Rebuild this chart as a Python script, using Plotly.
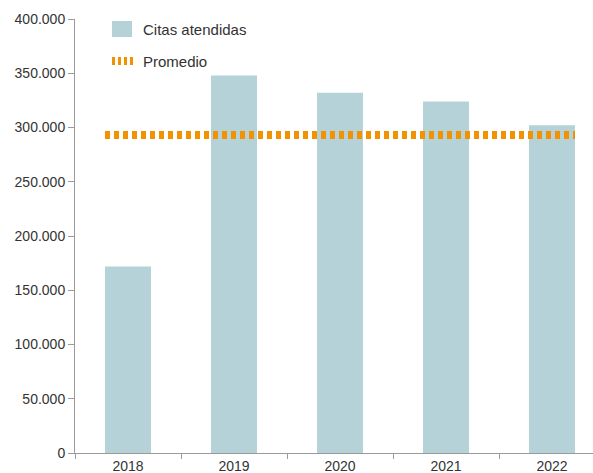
import plotly.graph_objects as go

# Data
years = ["2018", "2019", "2020", "2021", "2022"]
citas = [172000, 348000, 332000, 324000, 302000]
promedio = 293000
y_ticks = [0, 50000, 100000, 150000, 200000, 250000, 300000, 350000, 400000]
y_tick_labels = ["0", "50.000", "100.000", "150.000", "200.000", "250.000",
                 "300.000", "350.000", "400.000"]

BAR_COLOR = "#b5d2d9"
AVG_COLOR = "#f39200"
TEXT_COLOR = "#333333"
AXIS_COLOR = "#9a9a9a"
FONT = "Liberation Sans, Arial, sans-serif"

bar_width = 0.434
pos = list(range(len(years)))

fig = go.Figure()
fig.add_trace(go.Bar(
    x=pos, y=citas, width=bar_width, marker_color=BAR_COLOR,
    marker_line_width=0, name="Citas atendidas", showlegend=False,
))
fig.add_trace(go.Scatter(
    x=[pos[0] - bar_width / 2, pos[-1] + bar_width / 2],
    y=[promedio, promedio], mode="lines",
    line=dict(color=AVG_COLOR, width=8, dash="5px,4px"),
    name="Promedio", showlegend=False,
))

W, H = 593, 473
ml, mr, mt, mb = 75, 0, 19, 20
pw, ph = W - ml - mr, H - mt - mb


def px(x):
    return (x - ml) / pw


def py(y):
    return 1 - (y - mt) / ph


# Legend drawn inside the plot area
shapes = [
    dict(type="rect", xref="paper", yref="paper",
         x0=px(112), x1=px(132), y0=py(37), y1=py(21),
         fillcolor=BAR_COLOR, line=dict(width=0)),
    dict(type="line", xref="paper", yref="paper",
         x0=px(112), x1=px(133), y0=py(61), y1=py(61),
         line=dict(color=AVG_COLOR, width=8, dash="3px,3px")),
]
annotations = [
    dict(text="Citas atendidas", xref="paper", yref="paper", x=px(141), y=py(29),
         xanchor="left", yanchor="middle", showarrow=False,
         font=dict(size=15, color=TEXT_COLOR, family=FONT)),
    dict(text="Promedio", xref="paper", yref="paper", x=px(141), y=py(61),
         xanchor="left", yanchor="middle", showarrow=False,
         font=dict(size=15, color=TEXT_COLOR, family=FONT)),
]

fig.update_layout(
    width=W, height=H,
    margin=dict(l=ml, r=mr, t=mt, b=mb),
    plot_bgcolor="white", paper_bgcolor="white",
    font=dict(family=FONT, size=14, color=TEXT_COLOR),
    shapes=shapes, annotations=annotations,
    xaxis=dict(
        range=[-0.5, -0.5 + pw / 106], tickvals=pos, ticktext=years,
        automargin=False,
        showgrid=False, zeroline=False, showline=True,
        linecolor=AXIS_COLOR, linewidth=1, ticks="",
        minor=dict(tickvals=[p - 0.5 for p in pos] + [pos[-1] + 0.5],
                   ticks="outside", ticklen=5, tickcolor=AXIS_COLOR),
        tickfont=dict(size=14, color=TEXT_COLOR),
    ),
    yaxis=dict(
        range=[0, 400000], tickvals=y_ticks, ticktext=y_tick_labels,
        automargin=False,
        showgrid=False, zeroline=False, showline=True,
        linecolor=AXIS_COLOR, linewidth=1,
        ticks="outside", ticklen=6, tickcolor=AXIS_COLOR,
        tickfont=dict(size=14, color=TEXT_COLOR),
    ),
)

fig.write_html("out.html")
